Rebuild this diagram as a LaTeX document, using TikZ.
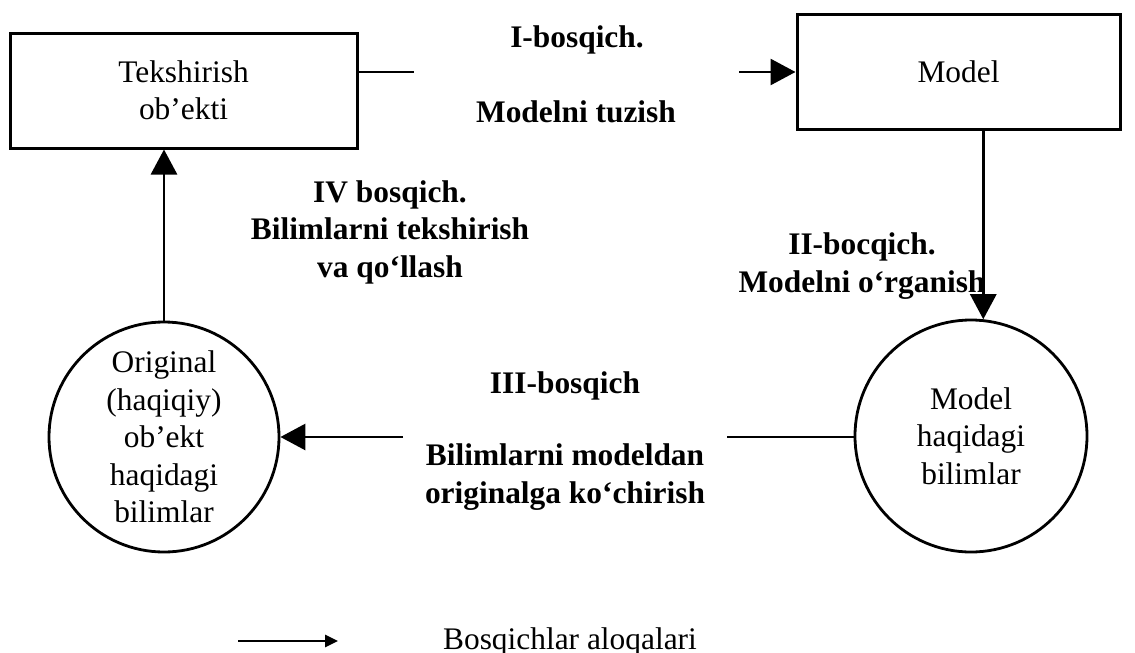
\documentclass[tikz,border=0pt]{standalone}
\usepackage{fontspec}
\setmainfont{Liberation Serif}
\usetikzlibrary{arrows.meta}
\begin{document}
\begin{tikzpicture}[x=0.5pt,y=-0.5pt,
  txt/.style={font=\fontsize{15.7pt}{18.7pt}\selectfont, inner sep=0pt, align=center},
  stage/.style={txt, font=\fontsize{15.7pt}{18.7pt}\selectfont\bfseries},
  objbox/.style={draw, line width=1.5pt, txt, minimum width=173.5pt, minimum height=57.5pt},
  knowl/.style={draw, circle, line width=1.4pt, txt},
  link/.style={line width=1.4pt},
  flow/.style={link, -{Triangle[length=12.5pt,width=13pt]}},
]
\useasboundingbox (0,0) rectangle (1135,653);

% objects and knowledge
\node[objbox] (obj) at (183.5,90.5) {Tekshirish\\ob’ekti};
\node[objbox, minimum width=161.5pt] (mdl) at (958.5,71.5) {\raisebox{-1.5pt}{Model}};
\node[knowl, minimum size=115pt] (orig) at (164,437) {Original\\(haqiqiy)\\ob’ekt\\haqidagi\\bilimlar};
\node[knowl, minimum size=116pt] (mk) at (971,436) {Model\\haqidagi\\bilimlar};

% stage captions (base = baseline of the last line)
\node[stage, anchor=base] (s1a) at (577,47) {I-bosqich.};
\node[stage, anchor=base] (s1b) at (576,122) {Modelni tuzish};
\node[stage, anchor=base] (s2) at (862,292) {II-bocqich.\\Modelni o‘rganish};
\node[stage, anchor=base] (s3a) at (565,393) {III-bosqich};
\node[stage, anchor=base] (s3b) at (565,503) {Bilimlarni modeldan\\originalga ko‘chirish};
\node[stage, anchor=base] (s4) at (390,277) {IV bosqich.\\Bilimlarni tekshirish\\va qo‘llash};

% stage I: object -> model (broken around the caption)
\coordinate (c1a) at (414,72);
\coordinate (c1b) at (739,72);
\draw[link] (obj.east |- c1a) -- (c1a);
\draw[flow] (c1b) -- (c1b -| mdl.west);

% stage II: model -> knowledge about the model
\draw[flow] (mdl.south -| mk.84.5) -- (mk.84.5);

% stage III: model knowledge -> original knowledge (broken around the caption)
\coordinate (c3a) at (727,437);
\coordinate (c3b) at (403,437);
\draw[link] (c3a -| mk.west) -- (c3a);
\draw[flow] (c3b) -- (orig.east);

% stage IV: original knowledge -> object
\draw[flow] (orig.north) -- (orig.north |- obj.south);

% legend
\coordinate (lga) at (238,641);
\coordinate (lgb) at (338,641);
\draw[link, -{Triangle[length=6.5pt,width=6pt]}] (lga) -- (lgb);
\node[txt, anchor=base] (lgt) at (570,649) {Bosqichlar aloqalari};
\end{tikzpicture}
\end{document}
